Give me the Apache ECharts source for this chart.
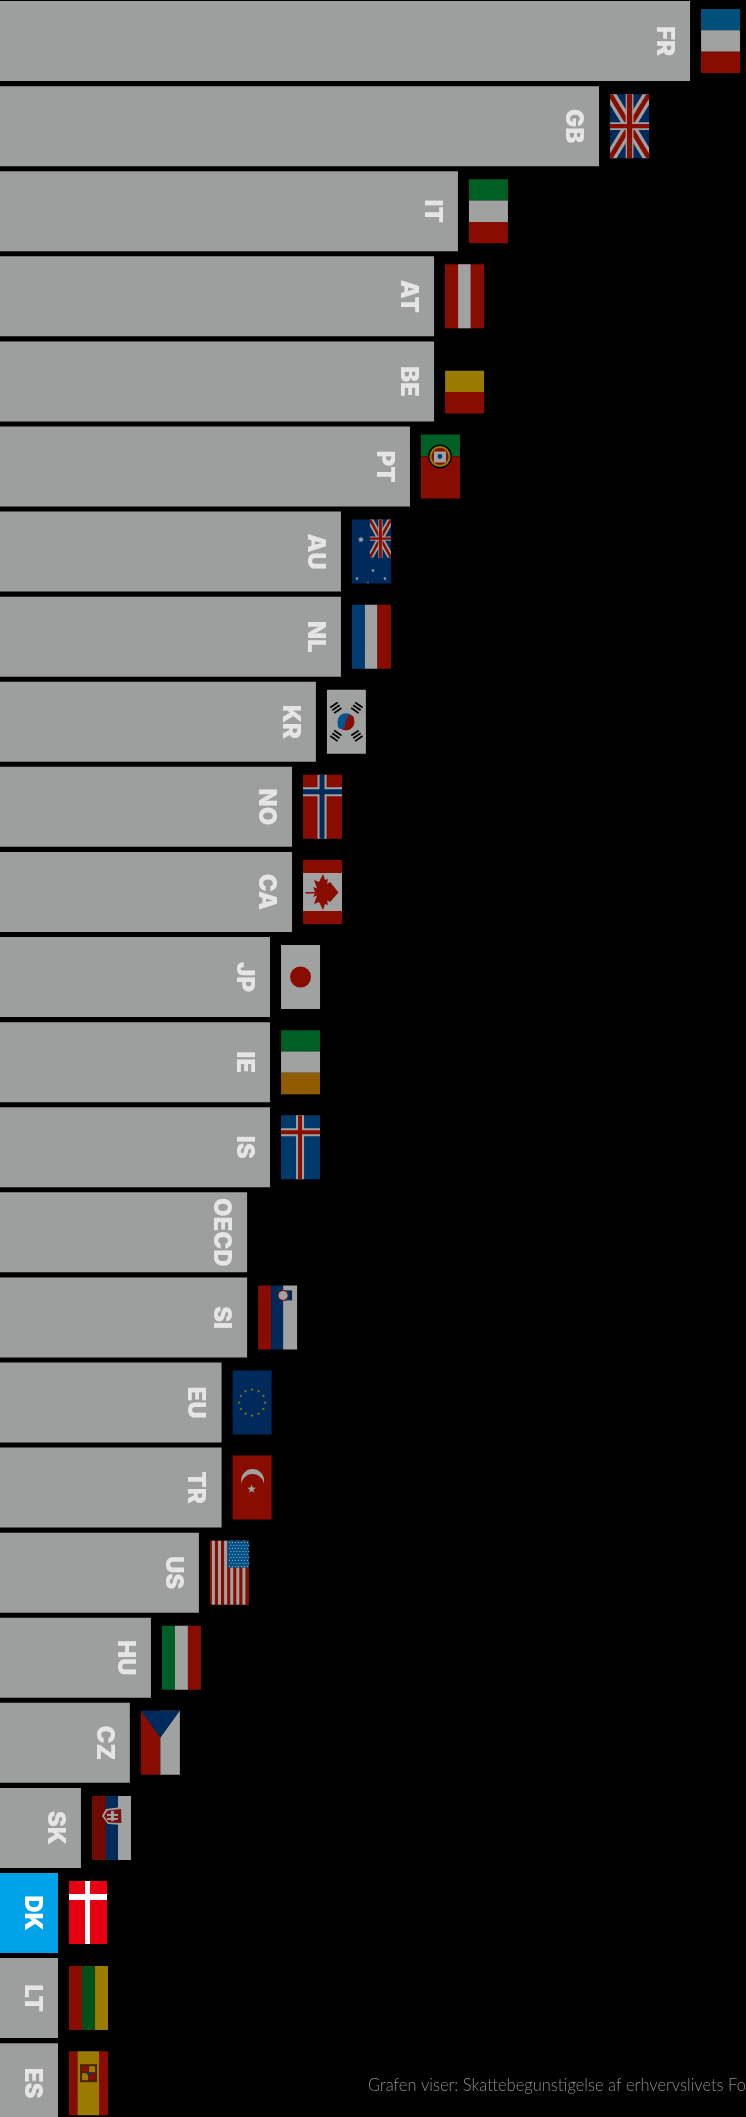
<!DOCTYPE html>
<html><head><meta charset="utf-8">
<style>html,body{margin:0;padding:0;background:#000;overflow:hidden}#w{width:746px;height:2117px;overflow:hidden;position:relative}#c{position:absolute;left:0;top:-2px;width:746px;height:2132px}</style>
<script src="https://cdn.jsdelivr.net/npm/echarts@6/dist/echarts.min.js"></script>
</head><body><div id="w"><div id="c"></div></div>
<script>
const categories = ['FR','GB','IT','AT','BE','PT','AU','NL','KR','NO','CA','JP','IE','IS','OECD','SI','EU','TR','US','HU','CZ','SK','DK','LT','ES'];
const values = [30.04,26.15,20.12,19.1,19.1,18.07,15.12,15.12,14.05,13.03,13.03,12.09,12.09,12.09,11.11,11.11,10.02,10.02,9.05,7,6.1,4.01,3.03,3.03,3.03];
const highlight = 'DK';
const noteText = 'Grafen viser: Skattebegunstigelse af erhvervslivets Forskning og Udvikling';

const W='#a0a2a1',RD='#880d00',NV='#00295c',BL='#003c72',FB='#00507c',GR='#005f24',YL='#9a7b00',OR='#915c00',BK='#000000';
const R=(x,y,w,h,c)=>({type:'rect',shape:{x,y,width:w,height:h},style:{fill:c}});
const P=(pts,c)=>({type:'polygon',shape:{points:pts},style:{fill:c}});
const C=(x,y,r,c)=>({type:'circle',shape:{cx:x,cy:y,r},style:{fill:c}});
const L=(a,b,c,d,w,col)=>({type:'line',shape:{x1:a,y1:b,x2:c,y2:d},style:{stroke:col,lineWidth:w}});
const star=(x,y,r,c,n=5)=>{const p=[];for(let i=0;i<n*2;i++){const a=-Math.PI/2+i*Math.PI/n,q=i%2?r*0.42:r;p.push([x+q*Math.cos(a),y+q*Math.sin(a)]);}return P(p,c);};
const H=(a,b,c)=>[R(0,0,39,21.3,a),R(0,21.3,39,21.4,b),R(0,42.7,39,21.3,c)];
const V=(a,b,c)=>[R(0,0,13,64,a),R(13,0,13,64,b),R(26,0,13,64,c)];
const diag=(x,y,w,h,t,c)=>{const k=t*h/w;return [
  P([[x,y],[x+t,y],[x+w,y+h-k],[x+w,y+h],[x+w-t,y+h],[x,y+k]],c),
  P([[x+w,y],[x+w-t,y],[x,y+h-k],[x,y+h],[x+t,y+h],[x+w,y+k]],c)];};
const jack=(x,y,w,h,bg)=>[R(x,y,w,h,bg),...diag(x,y,w,h,w/6,W),...diag(x,y,w,h,w/14,RD),
  R(x+w/2-w/10,y,w/5,h,W),R(x,y+h/2-w/10,w,w/5,W),R(x+w/2-w/15,y,w*2/15,h,RD),R(x,y+h/2-w/18,w,w/9,RD)];
const cross=(bg,edge,mid,cx,cy,e,m)=>[R(0,0,39,64,bg),R(cx-e/2,0,e,64,edge),R(0,cy-e/2,39,e,edge),R(cx-m/2,0,m,64,mid),R(0,cy-m/2,39,m,mid)];
const tri=(x,y,rot)=>{const a=rot*Math.PI/180,g=[];for(const d of [-3.4,0,3.4]){const dx=Math.cos(a),dy=Math.sin(a);const nx=-dy,ny=dx;g.push(L(x+nx*d-dx*4.5,y+ny*d-dy*4.5,x+nx*d+dx*4.5,y+ny*d+dy*4.5,1.8,BK));}return g;};
const flags={
 FR:()=>H(FB,W,RD),
 GB:()=>jack(0,0,39,64,NV),
 IT:()=>H(GR,W,RD),
 AT:()=>[R(0,0,39,64,RD),R(13,0,12.5,64,W)],
 BE:()=>[R(0,21.3,39,21.3,YL),R(0,42.7,39,21.3,RD)],
 PT:()=>[R(0,0,39,22,GR),R(0,22,39,42,RD),C(19,22,12,'#000'),C(19,22,10.5,YL),C(19,22,8.5,RD),R(13,17,12,11,W),C(19,22,2.4,BL)],
 AU:()=>[R(0,0,39,64,NV),...jack(18,0,21,38,NV),star(9,20,3.5,W,7),star(21,51,2,W,7),star(5,59,2,W,7),star(33,59,2,W,7),star(16,63,1,W,5)],
 NL:()=>[R(0,0,13,64,BL),R(13,0,12.5,64,W),R(25.5,0,13.5,64,RD)],
 KR:()=>[R(0,0,39,64,W),C(19,32,8.5,'#005590'),{type:'sector',shape:{cx:19,cy:32,r:8.5,startAngle:-Math.PI/3,endAngle:Math.PI*2/3},style:{fill:RD}},C(23.5,29,3.6,RD),C(14.5,35.5,3.6,'#005590'),...tri(9,18,-35),...tri(30,18,35),...tri(9,46,35),...tri(30,46,-35)],
 NO:()=>cross(RD,W,NV,19,17,9,5),
 CA:()=>[R(0,0,39,13,RD),R(0,13,39,38,W),R(0,51,39,13,RD),
   P([[2.5,32],[12,32],[10,27],[14,28.5],[11,20],[16,22],[20,14],[22,20],[25,19],[24,24],[27,22],[35.5,32.5],[27,42],[24,40.5],[25,45],[22,44],[20,50],[16,42],[11,44],[14,35.5],[10,37],[12,33.5],[2.5,33.5]],RD)],
 JP:()=>[R(0,0,39,64,W),C(19.5,32,10.5,RD)],
 IE:()=>H(GR,W,OR),
 IS:()=>cross('#003a6b',W,RD,19,17,8,4),
 SI:()=>[R(0,0,13,64,RD),R(13,0,12,64,NV),R(25,0,14,64,W),R(24,5,10,10,NV),C(25,10,5.5,RD),C(25,10,4.5,W)],
 EU:()=>{const a=[R(0,0,39,64,NV)];for(let i=0;i<12;i++){const t=i*Math.PI/6;a.push(star(19.5+13*Math.sin(t),32-13*Math.cos(t),1.7,YL));}return a;},
 TR:()=>[R(0,0,39,64,RD),C(20,25,11.5,W),C(20,30,11.5,RD),star(19,33.5,4.5,W)],
 US:()=>{const a=[R(0,0,39,64,RD)];for(let i=0;i<6;i++)a.push(R(2+i*6.1,0,3,64,W));a.push(R(17.5,0,21.5,27,'#00528a'));for(let r=0;r<9;r++)for(let k=0;k<7;k++)a.push(C(19.5+k*3+(r%2?1.5:0),1.8+r*3,0.6,W));return a;},
 HU:()=>V(GR,W,RD),
 CZ:()=>[R(0,0,19.5,64,RD),R(19.5,0,19.5,64,W),P([[0,0],[39,0],[19.5,27]],NV)],
 SK:()=>[R(0,0,14,64,'#700b00'),R(14,0,12,64,NV),R(26,0,13,64,W),P([[10,20],[14,13],[30,11],[31,29],[16,28]],W),P([[12,20],[15.5,14.5],[29,13],[29.5,27],[16.5,26.5]],'#7a0f10'),R(19,15,3,10,W),R(15,18,11,2,W),R(15,22,11,2,W)],
 DK:()=>[R(0,0,38,63,'#e60012'),R(16,0,5,63,'#ffffff'),R(0,13,38,6,'#ffffff')],
 LT:()=>V('#880d00','#00501c','#9b7c00'),
 ES:()=>[R(0,0,8.5,64,RD),R(8.5,0,21.5,64,YL),R(30,0,9,64,RD),R(11,13,17,18,'#4a2208'),R(13,15,6,6,RD),R(20,15,6,6,YL),R(13,22,6,7,YL),R(20,22,6,7,RD),C(19.5,22,1.8,BL)]
};

const chart=echarts.init(document.getElementById('c'),null,{renderer:'canvas'});
chart.setOption({
 backgroundColor:'#000',animation:false,
 graphic:[{type:'text',x:368,y:2087,scaleX:0.916,silent:true,
   style:{text:noteText,fill:'#8c8c8c',font:'300 18px Lato',textVerticalAlign:'middle',verticalAlign:'middle'}}],
 grid:{left:0,right:0,top:0.5,height:2127.25,containLabel:false},
 xAxis:{type:'value',min:0.55,max:32.43,show:false},
 yAxis:{type:'category',inverse:true,data:categories,show:false},
 series:[
  {type:'bar',barWidth:80,silent:true,
   data:values.map((v,i)=>({value:v,name:categories[i],itemStyle:{color:categories[i]===highlight?'#00a3e8':'#9d9f9e'},
     label:{color:categories[i]===highlight?'#fff':'#e4e5e4'}})),
   label:{show:true,position:'insideRight',distance:26,rotate:-90,align:'center',verticalAlign:'middle',formatter:'{b}',fontFamily:'Inter',fontWeight:900,fontSize:24}},
  {type:'custom',silent:true,clip:false,
   data:values.map((v,i)=>[v,i]),encode:{x:0,y:1},
   renderItem(p,api){
     const pt=api.coord([api.value(0),api.value(1)]);
     const f=flags[categories[api.value(1)]];
     if(!f)return {type:'group',children:[]};
     return {type:'group',x:pt[0]+11,y:pt[1]-32,children:f()};
   }}
 ]
});
</script></body></html>
